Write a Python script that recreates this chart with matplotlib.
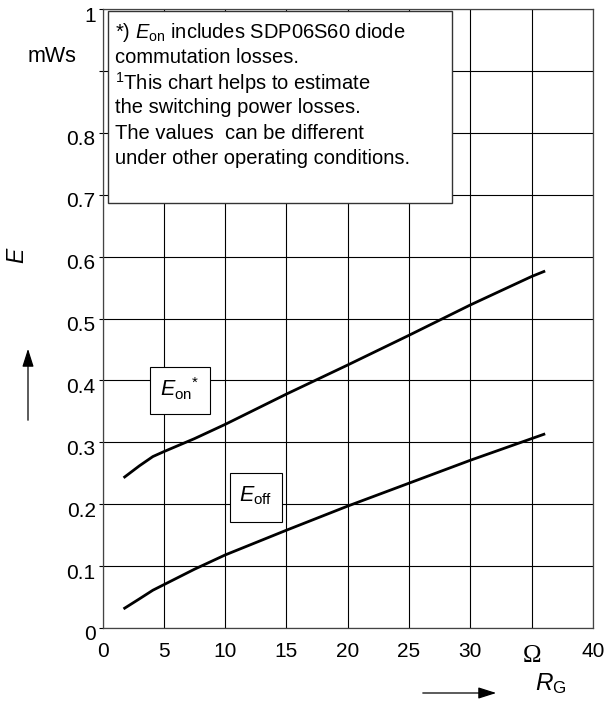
import numpy as np
import matplotlib
matplotlib.use("Agg")
import matplotlib.pyplot as plt
from matplotlib.patches import Rectangle
from matplotlib.transforms import ScaledTranslation

plt.rcParams['font.family'] = ['Liberation Sans', 'DejaVu Sans']
plt.rcParams['mathtext.fontset'] = 'custom'
plt.rcParams['mathtext.rm'] = 'Liberation Sans'
plt.rcParams['mathtext.it'] = 'Liberation Sans:italic'

# gate resistance (Ohm) and switching energy (mWs)
rg_on = [1.8, 3, 4.1, 5, 7.5, 10, 15, 20, 25, 30, 35, 36]
e_on = [0.244, 0.262, 0.277, 0.285, 0.306, 0.329, 0.378, 0.425, 0.473, 0.522, 0.568, 0.576]
rg_off = [1.8, 3, 4.1, 5, 7.5, 10, 15, 20, 25, 30, 35, 36]
e_off = [0.032, 0.047, 0.061, 0.070, 0.095, 0.118, 0.158, 0.197, 0.234, 0.271, 0.306, 0.313]

x_ticks = [0, 5, 10, 15, 20, 25, 30, 35, 40]
x_labels = ['0', '5', '10', '15', '20', '25', '30', '\u03a9', '40']
y_ticks = [0, 0.1, 0.2, 0.3, 0.4, 0.5, 0.6, 0.7, 0.8, 0.9, 1.0]
y_labels = ['0', '0.1', '0.2', '0.3', '0.4', '0.5', '0.6', '0.7', '0.8', '', '1']

note_lines = [r'*) $E_{\mathrm{on}}$ includes SDP06S60 diode',
              'commutation losses.',
              r'$^{\mathrm{1}}$This chart helps to estimate',
              'the switching power losses.',
              'The values  can be different',
              'under other operating conditions.']

fig = plt.figure(figsize=(6.05, 7.04), dpi=100)
ax = fig.add_axes([0.1696, 0.108, 0.8104, 0.879])

ax.set_xlim(0, 40)
ax.set_ylim(0, 1)
ax.set_xticks(x_ticks)
ax.set_xticklabels(x_labels)
ax.set_yticks(y_ticks)
ax.set_yticklabels(y_labels)
ax.grid(True, color='black', linewidth=0.8)
ax.set_axisbelow(True)
for s in ax.spines.values():
    s.set_linewidth(0.9)
    s.set_color('#444444')
ax.tick_params(axis='x', length=0, pad=10, labelsize=15)
ax.tick_params(axis='y', length=3, width=0.8, pad=2, labelsize=15)

# y labels sit a bit below their grid line
off = ScaledTranslation(0, -5 / 100, fig.dpi_scale_trans)
for lbl in ax.get_yticklabels():
    lbl.set_transform(lbl.get_transform() + off)
for lbl in ax.get_xticklabels():
    if lbl.get_text() == '\u03a9':
        lbl.set_fontfamily('Liberation Serif')
        lbl.set_fontsize(18)
        lbl.set_transform(lbl.get_transform() + ScaledTranslation(0, -3 / 100, fig.dpi_scale_trans))

ax.plot(rg_on, e_on, color='black', linewidth=2)
ax.plot(rg_off, e_off, color='black', linewidth=2)

# curve labels
ax.add_patch(Rectangle((3.86, 0.345), 4.94, 0.077, facecolor='white', edgecolor='black', linewidth=0.8, zorder=3))
ax.text(6.3, 0.386, r'$E_{\mathrm{on}}{}^{*}$', ha='center', va='center', fontsize=15.5, zorder=4)
ax.add_patch(Rectangle((10.4, 0.172), 4.2, 0.078, facecolor='white', edgecolor='black', linewidth=0.8, zorder=3))
ax.text(12.5, 0.213, r'$E_{\mathrm{off}}$', ha='center', va='center', fontsize=15.5, zorder=4)

# note box
ax.add_patch(Rectangle((0.46, 0.687), 28.04, 0.31, facecolor='white', edgecolor='#333333', linewidth=1.0, zorder=3))
for i, line in enumerate(note_lines):
    ax.text(1.0, 0.963 - i * 0.0409, line, ha='left', va='center', fontsize=14.5, zorder=4)

# axis captions
fig.text(52 / 605, 1 - 57 / 704, 'mWs', ha='center', va='center', fontsize=15.5)
fig.text(18 / 605, 1 - 255 / 704, '$E$', ha='center', va='center', fontsize=16.5, rotation=90)
fig.text(551 / 605, 1 - 684 / 704, r'$R_{\mathrm{G}}$', ha='center', va='center', fontsize=17.5)
ax.annotate('', xy=(28 / 605, 1 - 346 / 704), xytext=(28 / 605, 1 - 423 / 704),
            xycoords='figure fraction', textcoords='figure fraction',
            arrowprops=dict(arrowstyle='-|>,head_length=1.1,head_width=0.35', color='black', lw=0.9))
ax.annotate('', xy=(499 / 605, 1 - 693 / 704), xytext=(420 / 605, 1 - 693 / 704),
            xycoords='figure fraction', textcoords='figure fraction',
            arrowprops=dict(arrowstyle='-|>,head_length=1.1,head_width=0.35', color='black', lw=0.9))

fig.savefig('out.png', dpi=100)
